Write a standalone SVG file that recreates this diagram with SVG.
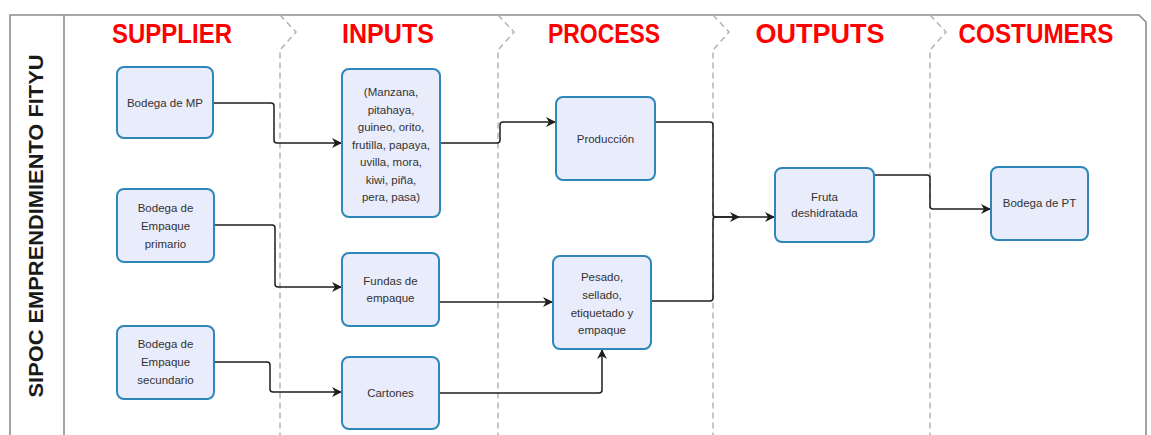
<svg xmlns="http://www.w3.org/2000/svg" width="1151" height="435" viewBox="0 0 1151 435">
  <style>
    .frame { fill: none; stroke: #8c8c8c; stroke-width: 1.6; }
    .lane { fill: none; stroke: #b4b4b4; stroke-width: 1.5; stroke-dasharray: 6 4; }
    .hdr { font-family: "Liberation Sans", Arial, sans-serif; font-weight: bold; font-size: 27px; fill: #ff0000; text-anchor: middle; }
    .title { font-family: "Liberation Sans", Arial, sans-serif; font-weight: bold; font-size: 20px; fill: #1a1a1a; text-anchor: middle; }
    .box { fill: #e9ecfb; stroke: #2f86b8; stroke-width: 2; }
    .lbl { font-family: "Liberation Sans", Arial, sans-serif; font-size: 11.5px; fill: #333333; text-anchor: middle; }
    .edge { fill: none; stroke: #1e1e1e; stroke-width: 1.5; }
  </style>
  <defs>
    <marker id="arrow" viewBox="0 0 10 10" refX="9" refY="5" markerWidth="10" markerHeight="10" markerUnits="userSpaceOnUse" orient="auto">
      <path d="M0,0 L10,5 L0,10 L3,5 z" fill="#1e1e1e"/>
    </marker>
  </defs>

  <rect width="1151" height="435" fill="#ffffff"/>

  <!-- pool frame and title column -->
  <g id="pool">
    <path class="frame" d="M10,440 V15 H1139 L1146,22 V440"/>
    <line class="frame" x1="64" y1="15" x2="64" y2="440"/>
    <text class="title" transform="translate(43,226) rotate(-90)" textLength="343" lengthAdjust="spacingAndGlyphs">SIPOC EMPRENDIMIENTO FITYU</text>
  </g>

  <!-- lane separators with chevron tabs -->
  <g id="lanes">
    <path class="lane" d="M280,15 L296,32 L280,50 V440"/>
    <path class="lane" d="M498,15 L514,32 L498,50 V440"/>
    <path class="lane" d="M713,15 L729,32 L713,50 V440"/>
    <path class="lane" d="M930,15 L946,32 L930,50 V440"/>
  </g>

  <!-- lane headers -->
  <g id="headers">
    <text class="hdr" x="172" y="43" textLength="120" lengthAdjust="spacingAndGlyphs">SUPPLIER</text>
    <text class="hdr" x="388" y="43" textLength="92" lengthAdjust="spacingAndGlyphs">INPUTS</text>
    <text class="hdr" x="604" y="43" textLength="112" lengthAdjust="spacingAndGlyphs">PROCESS</text>
    <text class="hdr" x="820" y="43" textLength="129" lengthAdjust="spacingAndGlyphs">OUTPUTS</text>
    <text class="hdr" x="1036" y="43" textLength="155" lengthAdjust="spacingAndGlyphs">COSTUMERS</text>
  </g>

  <!-- connectors -->
  <g id="connectors">
    <path class="edge" d="M213,103 H271 Q274,103 274,106 V140 Q274,143 277,143 H341" marker-end="url(#arrow)"/>
    <path class="edge" d="M214,225 H272 Q275,225 275,228 V284 Q275,287 278,287 H341" marker-end="url(#arrow)"/>
    <path class="edge" d="M214,362 H267 Q270,362 270,365 V389 Q270,392 273,392 H341" marker-end="url(#arrow)"/>
    <path class="edge" d="M440,143 H497 Q500,143 500,140 V125 Q500,122 503,122 H555" marker-end="url(#arrow)"/>
    <path class="edge" d="M439,302 H552" marker-end="url(#arrow)"/>
    <path class="edge" d="M439,393 H599 Q602,393 602,390 V350" marker-end="url(#arrow)"/>
    <path class="edge" d="M655,122 H710 Q713,122 713,125 V214 Q713,217 716,217 H774" marker-end="url(#arrow)"/>
    <path class="edge" d="M651,301 H710 Q713,301 713,298 V220 Q713,217 716,217 H739" marker-end="url(#arrow)"/>
    <path class="edge" d="M874,175 H927 Q930,175 930,178 V206 Q930,209 933,209 H990" marker-end="url(#arrow)"/>
  </g>

  <!-- supplier nodes -->
  <g id="bodega-mp">
    <rect class="box" x="117" y="67" width="96" height="71" rx="7"/>
    <text class="lbl" x="165" y="107">Bodega de MP</text>
  </g>
  <g id="bodega-empaque-primario">
    <rect class="box" x="117" y="189" width="97" height="73" rx="7"/>
    <text class="lbl" x="165.5" y="212">Bodega de</text>
    <text class="lbl" x="165.5" y="230">Empaque</text>
    <text class="lbl" x="165.5" y="248">primario</text>
  </g>
  <g id="bodega-empaque-secundario">
    <rect class="box" x="117" y="326" width="97" height="73" rx="7"/>
    <text class="lbl" x="165.5" y="348">Bodega de</text>
    <text class="lbl" x="165.5" y="366">Empaque</text>
    <text class="lbl" x="165.5" y="384">secundario</text>
  </g>

  <!-- input nodes -->
  <g id="materia-prima">
    <rect class="box" x="342" y="69" width="98" height="148" rx="7"/>
    <text class="lbl" x="391" y="96">(Manzana,</text>
    <text class="lbl" x="391" y="113.5">pitahaya,</text>
    <text class="lbl" x="391" y="131">guineo, orito,</text>
    <text class="lbl" x="391" y="148.5">frutilla, papaya,</text>
    <text class="lbl" x="391" y="166">uvilla, mora,</text>
    <text class="lbl" x="391" y="183.5">kiwi, piña,</text>
    <text class="lbl" x="391" y="201">pera, pasa)</text>
  </g>
  <g id="fundas">
    <rect class="box" x="342" y="253" width="97" height="73" rx="7"/>
    <text class="lbl" x="390.5" y="285">Fundas de</text>
    <text class="lbl" x="390.5" y="302">empaque</text>
  </g>
  <g id="cartones">
    <rect class="box" x="342" y="357" width="97" height="72" rx="7"/>
    <text class="lbl" x="390.5" y="397">Cartones</text>
  </g>

  <!-- process nodes -->
  <g id="produccion">
    <rect class="box" x="556" y="97" width="99" height="83" rx="7"/>
    <text class="lbl" x="605.5" y="143">Producción</text>
  </g>
  <g id="pesado">
    <rect class="box" x="553" y="256" width="98" height="93" rx="7"/>
    <text class="lbl" x="602" y="281">Pesado,</text>
    <text class="lbl" x="602" y="299">sellado,</text>
    <text class="lbl" x="602" y="317">etiquetado  y</text>
    <text class="lbl" x="602" y="334">empaque</text>
  </g>

  <!-- output node -->
  <g id="fruta-deshidratada">
    <rect class="box" x="775" y="168" width="99" height="74" rx="7"/>
    <text class="lbl" x="824.5" y="201">Fruta</text>
    <text class="lbl" x="824.5" y="217">deshidratada</text>
  </g>

  <!-- customer node -->
  <g id="bodega-pt">
    <rect class="box" x="991" y="167" width="97" height="73" rx="7"/>
    <text class="lbl" x="1039.5" y="207">Bodega de PT</text>
  </g>
</svg>
